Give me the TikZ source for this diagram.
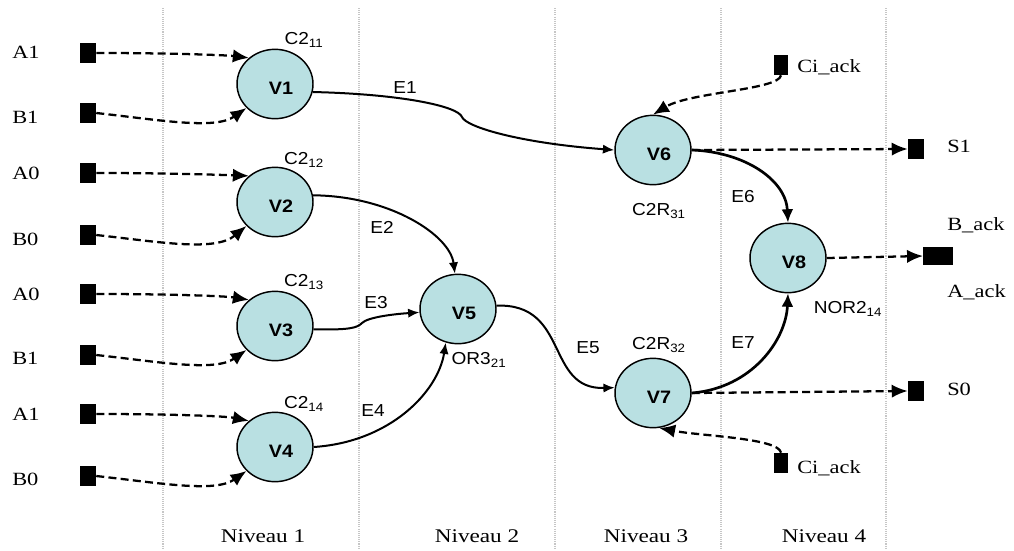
\documentclass[tikz,border=0pt]{standalone}
\usepackage{fontspec}
\setmainfont{Liberation Serif}
\newfontfamily\serifw{Liberation Serif}[FakeStretch=1.2]
\newfontfamily\sansw{Liberation Sans}[FakeStretch=1.1]
\usetikzlibrary{arrows.meta,shapes.geometric}
\definecolor{vfill}{RGB}{185,224,226}
\begin{document}
\begin{tikzpicture}[x=0.75pt,y=-0.75pt,
  vnode/.style={ellipse, draw=black, line width=1.1pt, fill=vfill, minimum width=57pt, minimum height=52pt, inner sep=0pt},
  blk/.style={fill=black, inner sep=0pt, minimum width=12pt, minimum height=15pt},
  sig/.style={font=\serifw\fontsize{14}{16}\selectfont, inner sep=0pt},
  lvl/.style={font=\serifw\fontsize{14.5}{17}\selectfont, inner sep=0pt},
  lbl/.style={font=\sansw\fontsize{13}{15}\selectfont, inner sep=0pt},
  vlab/.style={font=\sansw\bfseries\fontsize{13.5}{15}\selectfont, inner sep=0pt, shift={(4.5pt,-3.5pt)}},
  edge/.style={line width=1.5pt, -{Latex[length=8.5pt,width=7pt]}},
  bigedge/.style={line width=2pt, -{Latex[length=10pt,width=9pt]}},
  wire/.style={line width=1.7pt, dash pattern=on 6pt off 3.2pt, -{Latex[length=12pt,width=10pt]}},
  level/.style={draw=gray!45, line width=1.6pt, dash pattern=on 0.8pt off 0.8pt}]
\useasboundingbox (0,0) rectangle (1014,550);

% level separators
\foreach \lx in {163,359,555,721,886}{
  \draw[level] (\lx,8) -- (\lx,548);
}

% vertices
\node[vnode, label={[vlab]center:V1}] (V1) at (275,84) {};
\node[vnode, label={[vlab]center:V2}] (V2) at (275,202) {};
\node[vnode, label={[vlab]center:V3}] (V3) at (275,326) {};
\node[vnode, label={[vlab]center:V4}] (V4) at (275,447) {};
\node[vnode, label={[vlab]center:V5}] (V5) at (458,309) {};
\node[vnode, label={[vlab]center:V6}] (V6) at (653,150) {};
\node[vnode, label={[vlab]center:V7}] (V7) at (653,393) {};
\node[vnode, label={[vlab]center:V8}] (V8) at (788,258) {};

% gate labels
\node[lbl] (g1) at (304,40) {C2\textsubscript{11}};
\node[lbl] (g2) at (304,160) {C2\textsubscript{12}};
\node[lbl] (g3) at (304,282) {C2\textsubscript{13}};
\node[lbl] (g4) at (304,404) {C2\textsubscript{14}};
\node[lbl] (g5) at (479,360) {OR3\textsubscript{21}};
\node[lbl] (g6) at (659,211) {C2R\textsubscript{31}};
\node[lbl] (g7) at (659,345) {C2R\textsubscript{32}};
\node[lbl] (g8) at (848,309) {NOR2\textsubscript{14}};

% input pins
\node[blk] (a1) at (88,53) {};
\node[blk] (b1) at (88,113) {};
\node[blk] (a2) at (88,173) {};
\node[blk] (b2) at (88,235) {};
\node[blk] (a3) at (88,294) {};
\node[blk] (b3) at (88,355) {};
\node[blk] (a4) at (88,414) {};
\node[blk] (b4) at (88,476) {};
\node[sig, anchor=west] (la1) at (12,52) {A1};
\node[sig, anchor=west] (lb1) at (12,117) {B1};
\node[sig, anchor=west] (la2) at (12,173) {A0};
\node[sig, anchor=west] (lb2) at (12,239) {B0};
\node[sig, anchor=west] (la3) at (12,294) {A0};
\node[sig, anchor=west] (lb3) at (12,358) {B1};
\node[sig, anchor=west] (la4) at (12,414) {A1};
\node[sig, anchor=west] (lb4) at (12,479) {B0};

% other pins
\node[blk, minimum width=11pt] (ct) at (781,65) {};
\node[blk, minimum width=11pt] (cb) at (781,463) {};
\node[blk] (s1) at (916,149) {};
\node[blk] (s0) at (916,391) {};
\node[blk, minimum width=22pt, minimum height=14pt] (ba) at (938,256) {};
\node[sig, anchor=west] (lct) at (797,67) {Ci\_ack};
\node[sig, anchor=west] (lcb) at (797,468) {Ci\_ack};
\node[sig, anchor=west] (ls1) at (947,146) {S1};
\node[sig, anchor=west] (ls0) at (947,389) {S0};
\node[sig, anchor=west] (lbk) at (947,225) {B\_ack};
\node[sig, anchor=west] (lak) at (947,292) {A\_ack};

% input wires
\draw[wire] (a1.east) .. controls (170,53) and (225,55) .. (V1.135);
\draw[wire] (b1.east) .. controls (160,120) and (215,130) .. (V1.220);
\draw[wire] (a2.east) .. controls (170,173) and (225,175) .. (V2.135);
\draw[wire] (b2.east) .. controls (160,242) and (215,252) .. (V2.220);
\draw[wire] (a3.east) .. controls (170,294) and (225,296) .. (V3.135);
\draw[wire] (b3.east) .. controls (160,362) and (215,372) .. (V3.220);
\draw[wire] (a4.east) .. controls (170,414) and (225,416) .. (V4.135);
\draw[wire] (b4.east) .. controls (160,483) and (215,493) .. (V4.220);

\draw[wire] (ct.south) .. controls (779,90) and (690,92) .. (V6.north);
\draw[wire] (cb.north) .. controls (779,438) and (700,436) .. (V7.-80);
\draw[wire] (V6.east) -- (s1.west);
\draw[wire] (V7.east) -- (s0.west);
\draw[wire] (V8.east) -- (ba.west);

% internal edges
\draw[edge] (V1.-12) .. controls (400,94) and (458,106) .. (462,117)
            .. controls (466,127) and (520,143) .. (V6.west);
\draw[edge] (V2.10) .. controls (390,196) and (450,235) .. (V5.95);
\draw[edge] (V3.-5) .. controls (350,330) and (357,328) .. (362,323)
            .. controls (368,317) and (395,314) .. (V5.185);
\draw[edge] (V4.east) .. controls (390,442) and (438,392) .. (V5.-110);
\draw[edge] (V5.5) .. controls (570,303) and (545,390) .. (V7.172);
\draw[bigedge] (V6.east) .. controls (745,152) and (786,180) .. (V8.north);
\draw[bigedge] (V7.east) .. controls (752,388) and (786,340) .. (V8.south);

% edge labels
\node[lbl] (e1) at (405,88) {E1};
\node[lbl] (e2) at (382,227) {E2};
\node[lbl] (e3) at (376,303) {E3};
\node[lbl] (e4) at (373,411) {E4};
\node[lbl] (e5) at (588,348) {E5};
\node[lbl] (e6) at (743,197) {E6};
\node[lbl] (e7) at (743,343) {E7};

% level names
\node[lvl] (n1) at (263,536) {Niveau 1};
\node[lvl] (n2) at (477,536) {Niveau 2};
\node[lvl] (n3) at (646,536) {Niveau 3};
\node[lvl] (n4) at (824,536) {Niveau 4};
\end{tikzpicture}
\end{document}
